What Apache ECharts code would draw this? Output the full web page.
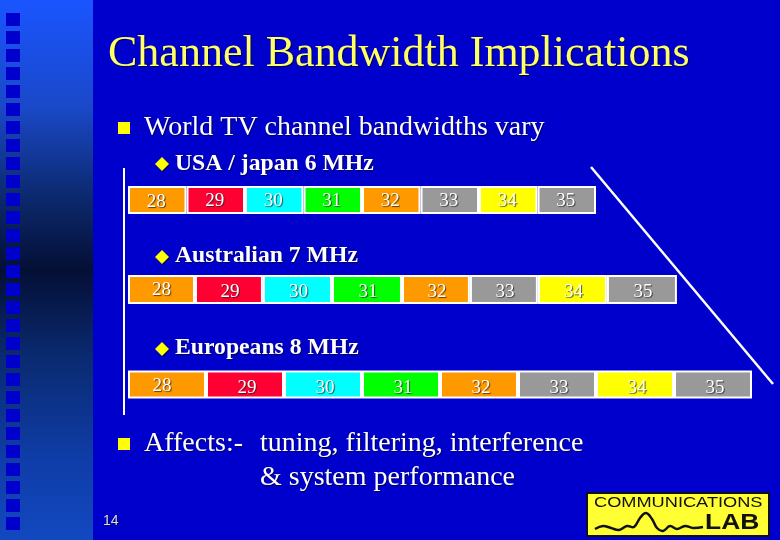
<!DOCTYPE html>
<html>
<head>
<meta charset="utf-8">
<style>
  html, body { margin: 0; padding: 0; background: #0000cc; }
  #main { width: 780px; height: 540px; }
</style>
<script src="https://cdn.jsdelivr.net/npm/echarts@6/dist/echarts.min.js"></script>
</head>
<body>
<div id="main"></div>
<script>
// channel numbers shown in each cell
const channels = ['28', '29', '30', '31', '32', '33', '34', '35'];
// channel widths in MHz, as drawn on the slide
const usaWidths = [6, 6, 6, 6, 6, 6, 6, 6];
const australianWidths = [6.87, 6.97, 7.08, 7.18, 6.97, 6.97, 7.08, 7.18];
const europeanWidths = [8, 8, 8, 8, 8, 8, 8, 8];

const cellColors = ['#ff9900', '#ff0033', '#00ffff', '#00ff00', '#ff9900', '#999999', '#ffff00', '#999999'];
const serif = '"Liberation Serif", serif';
const sans = '"Liberation Sans", sans-serif';

const rows = [
  { widths: usaWidths, center: 200, bar: 28, first: [-1, 2], rest: [-1, 1] },
  { widths: australianWidths, center: 289.5, bar: 29, first: [0, 1], rest: [1, 3] },
  { widths: europeanWidths, center: 384.5, bar: 28, first: [-5, 2], rest: [2, 4] }
];

const grids = [], xAxes = [], yAxes = [], series = [];
rows.forEach(function (row, r) {
  grids.push({ left: 128, width: 624, top: row.center - 15, height: 30 });
  xAxes.push({ type: 'value', gridIndex: r, min: 0, max: 64, show: false });
  yAxes.push({ type: 'category', gridIndex: r, data: ['r'], show: false });
  channels.forEach(function (ch, i) {
    series.push({
      type: 'bar',
      xAxisIndex: r,
      yAxisIndex: r,
      stack: 'row' + r,
      barWidth: row.bar,
      silent: true,
      animation: false,
      itemStyle: { color: cellColors[i], borderColor: '#ffffff', borderWidth: 2 },
      label: {
        show: true,
        position: 'inside',
        formatter: ch,
        fontFamily: serif,
        fontSize: 19,
        color: '#ffffff',
        textShadowColor: 'rgba(30,30,30,0.75)',
        textShadowBlur: 1,
        textShadowOffsetX: 1,
        textShadowOffsetY: 1,
        offset: i === 0 ? row.first : row.rest
      },
      data: [row.widths[i]]
    });
  });
});

function text(x, y, str, size, opts) {
  opts = opts || {};
  return {
    type: 'text',
    x: x,
    y: y,
    z: 5,
    style: {
      text: str,
      fill: opts.fill || '#ffffff',
      font: (opts.bold ? 'bold ' : '') + size + 'px ' + (opts.family || serif),
      textVerticalAlign: 'middle',
      textShadowColor: 'rgba(0,0,60,0.8)',
      textShadowBlur: 1,
      textShadowOffsetX: 1,
      textShadowOffsetY: 1
    }
  };
}
function line(x1, y1, x2, y2, width) {
  return {
    type: 'line', z: 4,
    shape: { x1: x1, y1: y1, x2: x2, y2: y2 },
    style: { stroke: '#ffffff', lineWidth: width }
  };
}
function rect(x, y, w, h, fill, z) {
  return { type: 'rect', z: z || 1, shape: { x: x, y: y, width: w, height: h }, style: { fill: fill } };
}
function diamond(cx, cy) {
  return {
    type: 'polygon', z: 5,
    shape: { points: [[cx - 7, cy], [cx, cy - 7], [cx + 7, cy], [cx, cy + 7]] },
    style: { fill: '#ffff00', shadowColor: 'rgba(0,0,60,0.8)', shadowOffsetX: 1, shadowOffsetY: 1 }
  };
}

const graphics = [];
// left strip
graphics.push(rect(0, 0, 93, 540, new echarts.graphic.LinearGradient(0, 0, 0, 1, [
  { offset: 0, color: '#1a55ff' },
  { offset: 0.2, color: '#1a48c8' },
  { offset: 0.36, color: '#0c2a70' },
  { offset: 0.5, color: '#040f35' },
  { offset: 0.66, color: '#0a2a70' },
  { offset: 0.85, color: '#0f3da8' },
  { offset: 1, color: '#1248c0' }
])));
for (let i = 0; i < 29; i++) {
  graphics.push(rect(6, 13 + i * 18, 14, 13, '#0000cc', 2));
}

graphics.push(text(108, 54, 'Channel Bandwidth Implications', 44, { fill: '#ffff66' }));
graphics.push(rect(118, 122, 12, 12, '#ffff00', 5));
graphics.push(text(144, 128, 'World TV channel bandwidths vary', 28));
graphics.push(diamond(162, 164));
graphics.push(text(175, 164, 'USA / japan 6 MHz', 23.7, { bold: true }));
graphics.push(diamond(162, 257));
graphics.push(text(175, 256, 'Australian 7 MHz', 23.7, { bold: true }));
graphics.push(diamond(162, 349));
graphics.push(text(175, 348, 'Europeans 8 MHz', 23.7, { bold: true }));
graphics.push(rect(118, 438, 12, 12, '#ffff00', 5));
graphics.push(text(144, 444, 'Affects:-', 28));
graphics.push(text(260, 444, 'tuning, filtering, interference', 28));
graphics.push(text(260, 478, '& system performance', 28));
graphics.push(text(103, 521, '14', 14, { family: sans, fill: '#dddddd' }));

graphics.push(line(124, 168, 124, 415, 2));
graphics.push(line(591, 167, 773, 384, 2.5));

// logo
graphics.push({
  type: 'rect', z: 5,
  shape: { x: 587, y: 493, width: 182, height: 43 },
  style: { fill: '#ffff33', stroke: '#111111', lineWidth: 2 }
});
graphics.push({
  type: 'text', z: 6, x: 594, y: 503, scaleX: 1.3,
  style: { text: 'COMMUNICATIONS', fill: '#111111', font: '14px ' + sans, textVerticalAlign: 'middle' }
});
graphics.push({
  type: 'text', z: 6, x: 705, y: 523, scaleX: 1.2,
  style: { text: 'LAB', fill: '#111111', font: 'bold 22px ' + sans, textVerticalAlign: 'middle' }
});
graphics.push({
  type: 'polyline', z: 6,
  shape: {
    smooth: 0.4,
    points: [[595, 529], [603, 526], [611, 528], [619, 530], [627, 526], [634, 527],
      [640, 518], [646, 513], [652, 519], [657, 528], [663, 531], [670, 526], [677, 529], [685, 526], [693, 528], [703, 527]]
  },
  style: { stroke: '#111111', lineWidth: 2.5, fill: null }
});

const chart = echarts.init(document.getElementById('main'), null, { renderer: 'canvas' });
chart.setOption({
  backgroundColor: '#0000cc',
  animation: false,
  grid: grids,
  xAxis: xAxes,
  yAxis: yAxes,
  series: series,
  graphic: { elements: graphics }
});
</script>
</body>
</html>
